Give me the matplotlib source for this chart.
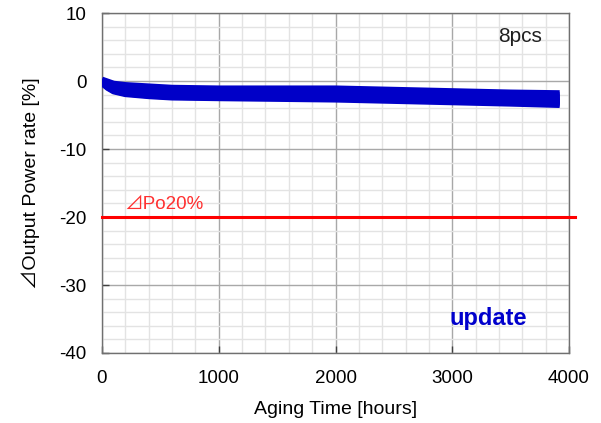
import matplotlib
matplotlib.use("Agg")
import matplotlib.pyplot as plt
from matplotlib.ticker import MultipleLocator

plt.rcParams['font.family'] = ['Liberation Sans', 'Noto Sans CJK JP', 'DejaVu Sans']
plt.rcParams['axes.unicode_minus'] = False

# aging time samples [hours]
hours = [0, 50, 100, 200, 400, 600, 1000, 1500, 2000, 2500, 3000, 3500, 3920]

# output power change [%] for the 8 pieces
pcs = [
    [0.2, -0.1, -0.4, -0.6, -0.8, -1.0, -1.1, -1.1, -1.1, -1.3, -1.5, -1.7, -1.8],
    [0.1, -0.2, -0.6, -0.8, -1.1, -1.3, -1.4, -1.4, -1.5, -1.6, -1.8, -2.0, -2.1],
    [0.0, -0.4, -0.8, -1.0, -1.3, -1.5, -1.6, -1.6, -1.7, -1.9, -2.1, -2.3, -2.4],
    [0.0, -0.5, -0.9, -1.2, -1.5, -1.7, -1.8, -1.8, -1.9, -2.1, -2.3, -2.5, -2.7],
    [-0.1, -0.6, -1.0, -1.4, -1.7, -1.9, -2.0, -2.0, -2.1, -2.3, -2.5, -2.7, -2.9],
    [-0.1, -0.7, -1.2, -1.6, -1.9, -2.1, -2.2, -2.2, -2.3, -2.5, -2.7, -2.9, -3.1],
    [-0.2, -0.9, -1.4, -1.8, -2.1, -2.3, -2.4, -2.4, -2.5, -2.7, -2.9, -3.1, -3.3],
    [-0.3, -1.0, -1.5, -1.9, -2.2, -2.4, -2.5, -2.6, -2.7, -2.9, -3.1, -3.3, -3.5],
]

limit_y = -20
limit_label = "⊿Po20%"

fig = plt.figure(figsize=(6.01, 4.23), dpi=100)
ax = fig.add_axes([0.1697, 0.1655, 0.7771, 0.8035])

for p in pcs:
    ax.plot(hours, p, color="#0000c8", linewidth=4.5, solid_capstyle="butt", zorder=3)

ax.plot([0, 4050], [limit_y, limit_y], color="#ff0000", linewidth=2.2, clip_on=False, zorder=4)
ax.text(190, -18.2, limit_label, color="#ff3030", fontsize=13.5, va="center", ha="left")

ax.text(3580, 6.6, "8pcs", fontsize=15, ha="center", va="center", color="#202020")
ax.text(3310, -34.9, "update", fontsize=17, fontweight="bold", ha="center", va="center",
        color="#0000cc")

ax.set_xlim(0, 4000)
ax.set_ylim(-40, 10)
ax.xaxis.set_major_locator(MultipleLocator(1000))
ax.xaxis.set_minor_locator(MultipleLocator(200))
ax.yaxis.set_major_locator(MultipleLocator(10))
ax.yaxis.set_minor_locator(MultipleLocator(2))

ax.grid(True, which="minor", color="#e3e3e3", linewidth=1.0, zorder=0)
ax.grid(True, which="major", color="#a8a8a8", linewidth=1.0, zorder=1)
ax.set_axisbelow(True)

ax.tick_params(which="major", direction="in", length=5, width=1, color="#404040",
               labelsize=13.5)
ax.tick_params(axis="x", pad=12)
ax.tick_params(axis="y", pad=11)
ax.tick_params(which="minor", length=0)
for s in ax.spines.values():
    s.set_color("#707070")
    s.set_linewidth(1.0)

ax.set_xlabel("Aging Time [hours]", fontsize=14, labelpad=10)
ax.set_ylabel("⊿Output Power rate [%]", fontsize=14, labelpad=14)

fig.savefig("out.png", dpi=100)
